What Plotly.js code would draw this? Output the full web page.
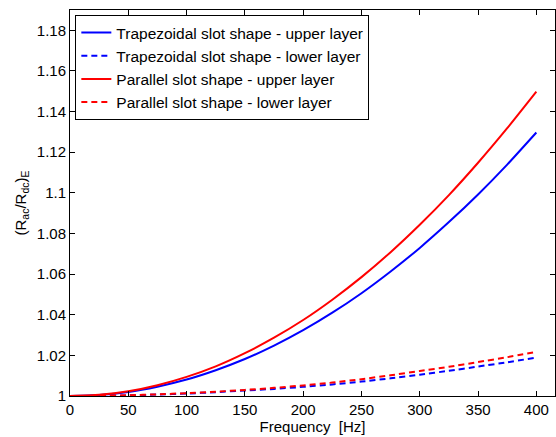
<!DOCTYPE html>
<html>
<head>
<meta charset="utf-8">
<script src="https://cdn.plot.ly/plotly-3.0.1.min.js"></script>
<style>html,body{margin:0;padding:0;background:#fff;}#chart{width:556px;height:437px;}</style>
</head>
<body>
<div id="chart"></div>
<script>
const freq = [0, 25, 50, 75, 100, 125, 150, 175, 200, 225, 250, 275, 300, 325, 350, 375, 400];
const trapUpper = [1, 1.0005, 1.0020, 1.0046, 1.0081, 1.0127, 1.0182, 1.0248, 1.0324, 1.0410, 1.0506, 1.0613, 1.0729, 1.0856, 1.0992, 1.1139, 1.1297];
const trapLower = [1, 1.0001, 1.0003, 1.0007, 1.0012, 1.0019, 1.0027, 1.0035, 1.0045, 1.0057, 1.0071, 1.0087, 1.0105, 1.0124, 1.0145, 1.0166, 1.0189];
const parUpper = [1, 1.0006, 1.0023, 1.0053, 1.0094, 1.0146, 1.0211, 1.0287, 1.0374, 1.0474, 1.0585, 1.0708, 1.0843, 1.0989, 1.1148, 1.1318, 1.1498];
const parLower = [1, 1.0001, 1.0004, 1.0008, 1.0014, 1.0021, 1.0030, 1.0040, 1.0052, 1.0066, 1.0083, 1.0102, 1.0123, 1.0144, 1.0167, 1.0191, 1.0217];
const names = ["Trapezoidal slot shape - upper layer", "Trapezoidal slot shape - lower layer", "Parallel slot shape - upper layer", "Parallel slot shape - lower layer"];
const xTicks = [0, 50, 100, 150, 200, 250, 300, 350, 400];
const yTicks = [1, 1.02, 1.04, 1.06, 1.08, 1.1, 1.12, 1.14, 1.16, 1.18];
const yTickLabels = ["1", "1.02", "1.04", "1.06", "1.08", "1.1", "1.12", "1.14", "1.16", "1.18"];

const series = [trapUpper, trapLower, parUpper, parLower];
const colors = ["#0000ff", "#0000ff", "#ff0000", "#ff0000"];
const dashes = ["solid", "6px,4px", "solid", "6px,4px"];
const traces = series.map((s, i) => ({
  x: freq, y: s, type: "scatter", mode: "lines", name: names[i],
  line: {color: colors[i], width: 2, dash: dashes[i], shape: "spline", smoothing: 0.6}
}));

const fam = "Liberation Sans, Arial, Helvetica, sans-serif";
const layout = {
  width: 556, height: 437,
  margin: {l: 70, r: 1, t: 10, b: 41},
  paper_bgcolor: "#fff", plot_bgcolor: "#fff",
  font: {family: fam, size: 15, color: "#000"},
  showlegend: true,
  legend: {x: 0.011, y: 0.987, xanchor: "left", yanchor: "top", bgcolor: "#fff",
    bordercolor: "#000", borderwidth: 1, font: {family: fam, size: 15.5, color: "#000"},
    tracegroupgap: 0, itemwidth: 30},
  xaxis: {range: [0, 416], tickvals: xTicks, ticks: "inside", ticklen: 5, tickcolor: "#000",
    showline: true, linecolor: "#000", linewidth: 1, mirror: "ticks", showgrid: false, zeroline: false,
    tickfont: {family: fam, size: 15, color: "#000"},
    title: {text: "Frequency  [Hz]", font: {family: fam, size: 15, color: "#000"}, standoff: 2}},
  yaxis: {range: [1, 1.19], tickvals: yTicks, ticktext: yTickLabels, ticks: "inside", ticklen: 5, tickcolor: "#000",
    showline: true, linecolor: "#000", linewidth: 1, mirror: "ticks", showgrid: false, zeroline: false,
    tickfont: {family: fam, size: 15, color: "#000"},
    title: {text: "(R<sub>ac</sub>/R<sub>dc</sub>)<sub>E</sub>", font: {family: fam, size: 15, color: "#000"}, standoff: 6}}
};
Plotly.newPlot("chart", traces, layout, {displayModeBar: false, staticPlot: true});
</script>
</body>
</html>
